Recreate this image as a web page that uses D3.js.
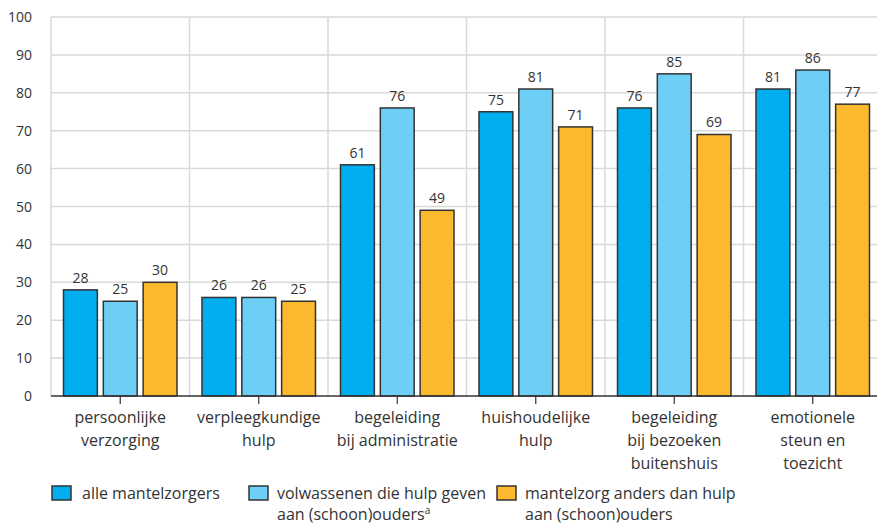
<!DOCTYPE html>
<html><head><meta charset="utf-8">
<script src="https://cdn.jsdelivr.net/npm/d3@7"></script>
<style>body{margin:0;background:#fff;} text{font-family:"Open Sans",sans-serif;fill:#333;}</style>
</head><body>
<svg id="c" width="877" height="525"></svg>
<script>
const categories = [["persoonlijke","verzorging"],["verpleegkundige","hulp"],["begeleiding","bij administratie"],["huishoudelijke","hulp"],["begeleiding","bij bezoeken","buitenshuis"],["emotionele","steun en","toezicht"]];
const seriesNames = ["alle mantelzorgers","volwassenen die hulp geven aan (schoon)ouders","mantelzorg anders dan hulp aan (schoon)ouders"];
const alleMantelzorgers = [28,26,61,75,76,81];
const volwassenenOuders = [25,26,76,81,85,86];
const andersDanOuders = [30,25,49,71,69,77];
const yTicks = [0,10,20,30,40,50,60,70,80,90,100];
const colors = ["#00aeef","#6dcff6","#fdb92e"];
const series = [alleMantelzorgers, volwassenenOuders, andersDanOuders];

(function(){
const svg = d3.select("#c");
const mLeft = 51, mRight = 882, mTop = 17, mBottom = 396;
const x = d3.scaleBand().domain(d3.range(categories.length)).range([mLeft,mRight]);
const x1 = d3.scaleBand().domain(d3.range(3)).range([12.5, x.bandwidth()-12.5]).paddingInner(0.15);
const y = d3.scaleLinear().domain([0,100]).range([mBottom,mTop]);

svg.append("g").selectAll("line").data(yTicks.filter(d=>d>0)).join("line")
  .attr("x1",mLeft).attr("x2",877).attr("y1",d=>y(d)).attr("y2",d=>y(d))
  .attr("stroke","#d9d9d9").attr("stroke-width",1.5);
svg.append("g").selectAll("line").data(d3.range(categories.length)).join("line")
  .attr("x1",d=>x(d)).attr("x2",d=>x(d)).attr("y1",mTop).attr("y2",mBottom)
  .attr("stroke","#d9d9d9").attr("stroke-width",1.5);

svg.append("g").selectAll("text").data(yTicks).join("text")
  .attr("x",32).attr("y",d=>y(d)+5).attr("text-anchor","end")
  .attr("font-size",14).text(d=>d);

const g = svg.append("g").selectAll("g").data(d3.range(categories.length)).join("g")
  .attr("transform",i=>`translate(${x(i)},0)`);
g.selectAll("rect").data(i=>series.map((s,k)=>({k,v:s[i]}))).join("rect")
  .attr("x",d=>x1(d.k)).attr("width",x1.bandwidth())
  .attr("y",d=>y(d.v)).attr("height",d=>y(0)-y(d.v))
  .attr("fill",d=>colors[d.k]).attr("stroke","#333").attr("stroke-width",1.5);
g.selectAll("text.v").data(i=>series.map((s,k)=>({k,v:s[i]}))).join("text").attr("class","v")
  .attr("x",d=>x1(d.k)+x1.bandwidth()/2).attr("y",d=>y(d.v)-7)
  .attr("text-anchor","middle").attr("font-size",14).text(d=>d.v);

svg.append("line").attr("x1",mLeft).attr("x2",877).attr("y1",mBottom).attr("y2",mBottom)
  .attr("stroke","#333").attr("stroke-width",1.5);
svg.append("g").selectAll("line").data(d3.range(categories.length)).join("line")
  .attr("x1",d=>x(d)+x.bandwidth()/2).attr("x2",d=>x(d)+x.bandwidth()/2)
  .attr("y1",mBottom).attr("y2",mBottom+8).attr("stroke","#333").attr("stroke-width",1.2);
const lab = svg.append("g").selectAll("text").data(d3.range(categories.length)).join("text")
  .attr("text-anchor","middle").attr("font-size",16);
lab.selectAll("tspan").data(i=>categories[i].map(t=>({i,t}))).join("tspan")
  .attr("x",d=>x(d.i)+x.bandwidth()/2).attr("y",(d,j)=>423+j*23).text(d=>d.t);

const legX = [52,249,497];
const legLines = [["alle mantelzorgers"],["volwassenen die hulp geven","aan (schoon)ouders"],["mantelzorg anders dan hulp","aan (schoon)ouders"]];
legLines.forEach((lines,k)=>{
  svg.append("rect").attr("x",legX[k]).attr("y",486).attr("width",19).attr("height",14)
    .attr("fill",colors[k]).attr("stroke","#333").attr("stroke-width",1.5);
  const t = svg.append("text").attr("font-size",16);
  lines.forEach((l,j)=>{
    t.append("tspan").attr("x",legX[k]+(k===0?30:28)).attr("y",499+j*21).text(l);
  });
  if(k===1){ t.append("tspan").attr("font-size",10).attr("dy",-6).text("a"); }
});
})();
</script>
</body></html>
